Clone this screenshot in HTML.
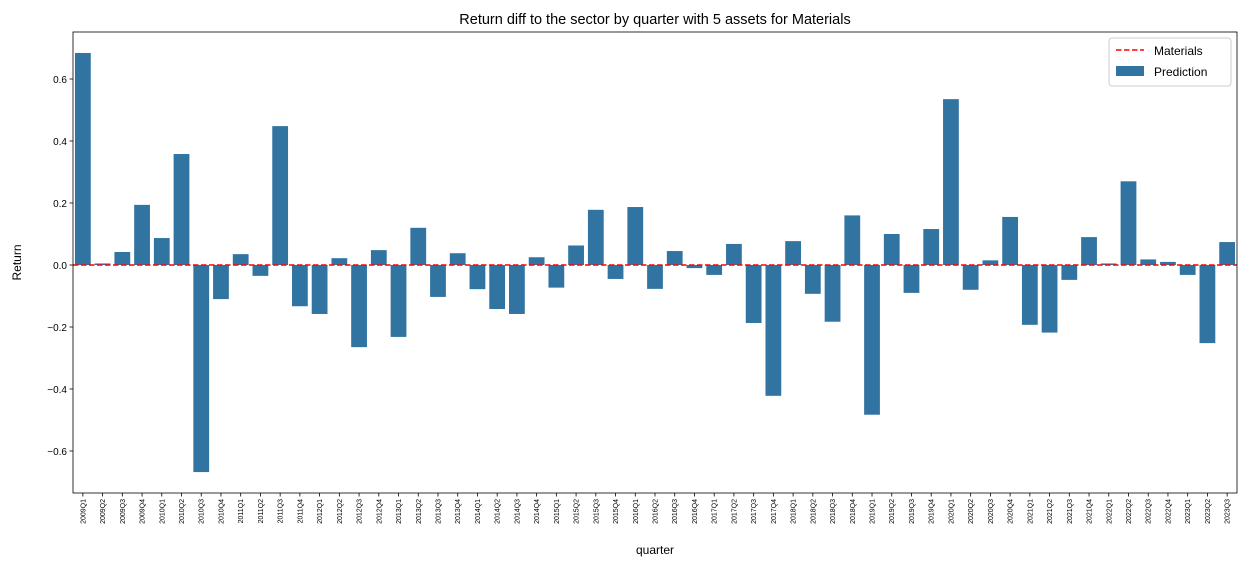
<!DOCTYPE html>
<html><head><meta charset="utf-8"><style>
body{margin:0;background:#fff;}
svg{display:block;font-family:"Liberation Sans","DejaVu Sans",sans-serif;}
</style></head><body>
<svg id="chart" width="1245" height="566"></svg>
<script>
const categories=["2009Q1","2009Q2","2009Q3","2009Q4","2010Q1","2010Q2","2010Q3","2010Q4","2011Q1","2011Q2","2011Q3","2011Q4","2012Q1","2012Q2","2012Q3","2012Q4","2013Q1","2013Q2","2013Q3","2013Q4","2014Q1","2014Q2","2014Q3","2014Q4","2015Q1","2015Q2","2015Q3","2015Q4","2016Q1","2016Q2","2016Q3","2016Q4","2017Q1","2017Q2","2017Q3","2017Q4","2018Q1","2018Q2","2018Q3","2018Q4","2019Q1","2019Q2","2019Q3","2019Q4","2020Q1","2020Q2","2020Q3","2020Q4","2021Q1","2021Q2","2021Q3","2021Q4","2022Q1","2022Q2","2022Q3","2022Q4","2023Q1","2023Q2","2023Q3"];
const predictionValues=[0.684,0.005,0.042,0.194,0.087,0.358,-0.668,-0.11,0.035,-0.035,0.448,-0.133,-0.158,0.022,-0.265,0.048,-0.232,0.12,-0.103,0.038,-0.078,-0.142,-0.158,0.025,-0.073,0.063,0.178,-0.045,0.187,-0.077,0.045,-0.01,-0.032,0.068,-0.187,-0.422,0.077,-0.093,-0.183,0.16,-0.483,0.1,-0.09,0.116,0.535,-0.08,0.015,0.155,-0.193,-0.218,-0.048,0.09,0.005,0.27,0.018,0.01,-0.032,-0.252,0.074];
const sectorValue=0;
const yTicks=[-0.6,-0.4,-0.2,0.0,0.2,0.4,0.6];
const yTickLabels=["−0.6","−0.4","−0.2","0.0","0.2","0.4","0.6"];

const svg=document.getElementById('chart');
const NS='http://www.w3.org/2000/svg';
const L=73,R=1237,T=32,B=493;
const step=(R-L)/categories.length;
function x(i){return L+step*(i+0.5);}
function y(v){return 265-v*310;}
function mk(tag,attrs,parent){const e=document.createElementNS(NS,tag);for(const k in attrs)e.setAttribute(k,attrs[k]);(parent||svg).appendChild(e);return e;}

const bars=mk('g',{});


predictionValues.forEach((v,i)=>{
  const y0=y(0),y1=y(v);
  const r=mk('rect',{x:x(i)-step*0.4,y:Math.min(y0,y1),width:step*0.8,height:Math.abs(y1-y0),fill:'#3274a1'},bars);
  
  
});
const ln=mk('line',{x1:L,x2:R,y1:y(sectorValue),y2:y(sectorValue),stroke:'#ff0000','stroke-width':1.5,'stroke-dasharray':'5.5,2.5'});



const frame=mk('rect',{x:L,y:T,width:R-L,height:B-T,fill:'none',stroke:'#000','stroke-width':0.8});



yTicks.forEach((t,i)=>{
  mk('line',{x1:L-3.5,x2:L,y1:y(t),y2:y(t),stroke:'#000','stroke-width':0.8});
  const tx=mk('text',{x:L-6,y:y(t)+4,'text-anchor':'end','font-size':10});
  tx.textContent=yTickLabels[i];
  
  
});
categories.forEach((c,i)=>{
  mk('line',{x1:x(i),x2:x(i),y1:B,y2:B+3.5,stroke:'#000','stroke-width':0.8});
  const tx=mk('text',{x:0,y:0,'text-anchor':'end','font-size':7,transform:`translate(${x(i)+2.5},${B+6}) rotate(-90)`});
  tx.textContent=c;
  
  
});
const title=mk('text',{x:(L+R)/2,y:24,'text-anchor':'middle','font-size':14.5});
title.textContent='Return diff to the sector by quarter with 5 assets for Materials';


const xl=mk('text',{x:(L+R)/2,y:554,'text-anchor':'middle','font-size':12});
xl.textContent='quarter';


const yl=mk('text',{x:0,y:0,'text-anchor':'middle','font-size':12,transform:`translate(21,${(T+B)/2}) rotate(-90)`});
yl.textContent='Return';



const lg=mk('g',{});


mk('rect',{x:1109,y:38,width:122,height:48,rx:3,fill:'#fff','fill-opacity':0.8,stroke:'#ccc'},lg);
mk('line',{x1:1116,x2:1144,y1:50,y2:50,stroke:'#ff0000','stroke-width':1.5,'stroke-dasharray':'5.5,2.5'},lg);
const t1=mk('text',{x:1154,y:55,'font-size':12},lg);t1.textContent='Materials';


mk('rect',{x:1116,y:66,width:28,height:10,fill:'#3274a1'},lg);
const t2=mk('text',{x:1154,y:76,'font-size':12},lg);t2.textContent='Prediction';


</script>
</body></html>
